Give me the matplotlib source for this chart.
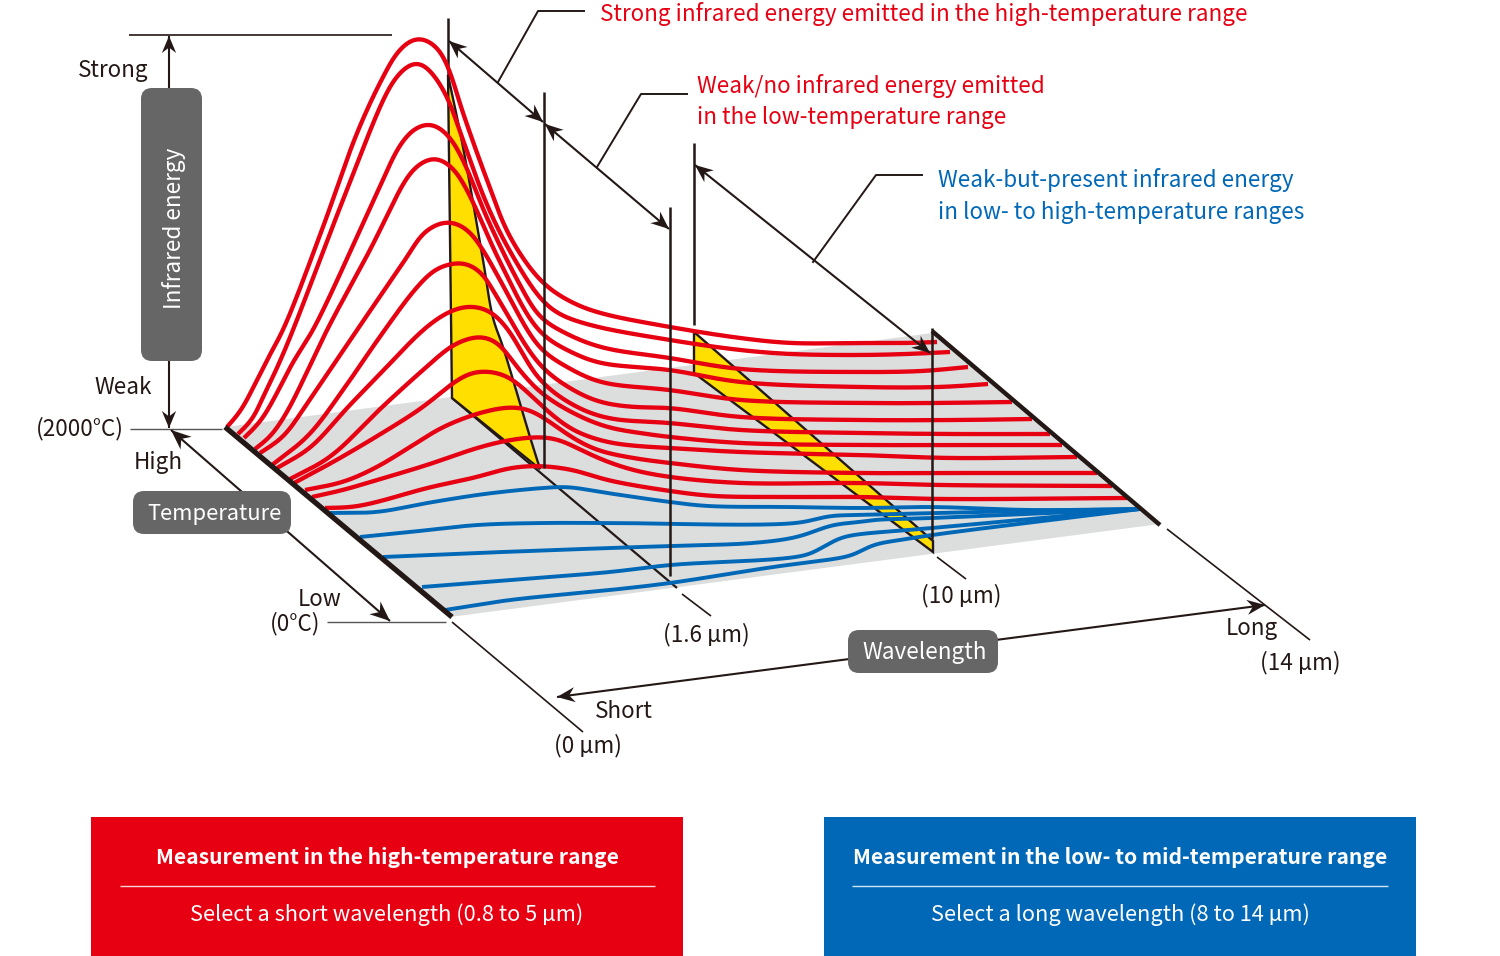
import numpy as np
import matplotlib
matplotlib.use("Agg")
import matplotlib.pyplot as plt
from matplotlib.patches import FancyBboxPatch, Polygon, Rectangle

plt.rcParams["font.family"] = ["Noto Sans CJK JP", "DejaVu Sans"]

INK = "#231815"
RED = "#e60012"
BLUE = "#0068b7"
YELLOW = "#ffdf00"
FLOOR = "#dcdddd"
PILL = "#666666"

# Emission curves in diagram units, one x and one y list per temperature
red01_x = [227, 240, 253, 267, 283, 323, 357, 383, 400, 418, 437, 448, 463, 487, 510, 543, 573, 600, 670, 740, 790, 860, 907, 937]
red01_y = [427, 412, 388, 360, 330, 227, 133, 77, 49, 37, 47, 67, 113, 180, 237, 283, 303, 313, 327, 338, 343, 343, 343, 342]
red02_x = [238, 252, 263, 277, 293, 343, 392, 407, 418, 433, 447, 463, 485, 507, 540, 557, 590, 670, 740, 790, 860, 907, 950]
red02_y = [434, 420, 397, 368, 330, 200, 83, 66, 61, 74, 97, 140, 200, 246, 298, 313, 325, 340, 350, 354, 355, 354, 352]
red03_x = [244, 260, 277, 293, 313, 377, 400, 415, 431, 448, 463, 487, 520, 540, 563, 600, 670, 740, 860, 923, 968]
red03_y = [438, 422, 393, 362, 330, 193, 145, 128, 123, 135, 160, 218, 285, 317, 332, 347, 358, 369, 372, 371, 367]
red04_x = [255, 270, 287, 307, 327, 370, 410, 422, 435, 452, 467, 500, 540, 573, 600, 670, 740, 860, 940, 988]
red04_y = [449, 437, 412, 372, 330, 250, 173, 162, 157, 167, 190, 262, 332, 353, 363, 370, 382, 387, 387, 384]
red05_x = [260, 283, 308, 357, 407, 423, 437, 449, 467, 483, 500, 540, 567, 600, 670, 740, 860, 933, 1012]
red05_y = [453, 437, 402, 330, 257, 233, 224, 221, 229, 250, 280, 348, 367, 382, 390, 400, 403, 403, 402]
red06_x = [272, 308, 343, 379, 417, 437, 450, 462, 480, 497, 540, 573, 600, 633, 670, 740, 860, 957, 1032]
red06_y = [465, 436, 390, 338, 287, 268, 264, 262, 271, 297, 365, 390, 402, 407, 408, 417, 420, 420, 419]
red07_x = [277, 310, 347, 379, 423, 443, 458, 473, 490, 507, 540, 573, 607, 670, 740, 860, 950, 1050]
red07_y = [468, 448, 408, 375, 330, 315, 308, 306, 311, 328, 380, 405, 418, 423, 430, 433, 434, 434]
red08_x = [290, 330, 379, 423, 453, 470, 481, 497, 517, 540, 573, 607, 640, 670, 740, 860, 940, 1062]
red08_y = [479, 457, 410, 370, 345, 338, 336, 342, 367, 392, 413, 427, 433, 437, 443, 445, 445, 445]
red09_x = [294, 333, 379, 423, 453, 470, 483, 505, 523, 543, 573, 607, 637, 670, 740, 860, 950, 1077]
red09_y = [483, 462, 435, 407, 383, 373, 371, 375, 388, 407, 430, 442, 446, 448, 452, 455, 458, 457]
red10_x = [305, 343, 377, 410, 443, 483, 513, 530, 547, 573, 597, 633, 670, 740, 860, 950, 1097]
red10_y = [490, 482, 467, 447, 427, 412, 407, 410, 420, 438, 450, 458, 463, 470, 473, 473, 473]
red11_x = [312, 343, 377, 427, 477, 510, 543, 560, 577, 603, 633, 670, 740, 860, 940, 1112]
red11_y = [497, 490, 480, 465, 448, 440, 437, 440, 448, 460, 470, 477, 483, 483, 485, 486]
red12_x = [325, 353, 377, 427, 477, 510, 540, 573, 607, 670, 713, 773, 860, 940, 1127]
red12_y = [508, 507, 502, 488, 477, 468, 466, 470, 480, 491, 496, 497, 497, 499, 498]

blue1_x = [330, 377, 427, 477, 510, 543, 567, 607, 670, 707, 790, 860, 932, 1030, 1140]
blue1_y = [513, 512, 503, 495, 491, 488, 487, 493, 502, 506, 507, 508, 507, 510, 509]
blue2_x = [360, 410, 477, 543, 610, 797, 830, 860, 932, 1140]
blue2_y = [537, 532, 525, 523, 523, 523, 516, 515, 513, 509]
blue3_x = [383, 477, 610, 670, 753, 797, 833, 860, 873, 932, 1140]
blue3_y = [557, 553, 548, 546, 543, 537, 525, 522, 520, 518, 509]
blue4_x = [422, 510, 610, 670, 807, 823, 840, 853, 932, 1140]
blue4_y = [587, 580, 572, 565, 555, 547, 538, 535, 528, 509]
blue5_x = [445, 510, 610, 670, 773, 840, 853, 873, 900, 932, 1140]
blue5_y = [610, 600, 590, 583, 567, 558, 555, 545, 540, 535, 509]

red_curves = [(red01_x, red01_y), (red02_x, red02_y), (red03_x, red03_y), (red04_x, red04_y),
              (red05_x, red05_y), (red06_x, red06_y), (red07_x, red07_y), (red08_x, red08_y),
              (red09_x, red09_y), (red10_x, red10_y), (red11_x, red11_y), (red12_x, red12_y)]
blue_curves = [(blue1_x, blue1_y), (blue2_x, blue2_y), (blue3_x, blue3_y), (blue4_x, blue4_y), (blue5_x, blue5_y)]

# Measurement bands on the floor
floor_x = [226, 932, 1160, 450]
floor_y = [427, 333, 524, 617]
short_band_x = [448, 463, 483, 493, 503, 530, 540, 473, 452]
short_band_y = [75, 147, 260, 318, 347, 437, 469, 415, 398]
long_band_x = [694, 933, 933, 694]
long_band_y = [332, 541, 552, 373]


def spline(xs, ys, n=16):
    """Centripetal Catmull-Rom through the given points."""
    p = np.column_stack([xs, ys]).astype(float)
    p = np.vstack([2 * p[0] - p[1], p, 2 * p[-1] - p[-2]])
    out = []
    for i in range(len(p) - 3):
        p0, p1, p2, p3 = p[i:i + 4]
        t0 = 0.0
        t1 = t0 + np.linalg.norm(p1 - p0) ** 0.5
        t2 = t1 + np.linalg.norm(p2 - p1) ** 0.5
        t3 = t2 + np.linalg.norm(p3 - p2) ** 0.5
        t = np.linspace(t1, t2, n)[:, None]
        a1 = (t1 - t) / (t1 - t0) * p0 + (t - t0) / (t1 - t0) * p1
        a2 = (t2 - t) / (t2 - t1) * p1 + (t - t1) / (t2 - t1) * p2
        a3 = (t3 - t) / (t3 - t2) * p2 + (t - t2) / (t3 - t2) * p3
        b1 = (t2 - t) / (t2 - t0) * a1 + (t - t0) / (t2 - t0) * a2
        b2 = (t3 - t) / (t3 - t1) * a2 + (t - t1) / (t3 - t1) * a3
        out.append((t2 - t) / (t2 - t1) * b1 + (t - t1) / (t2 - t1) * b2)
    return np.vstack(out)


def smooth(xs, ys, sigma=9.0):
    """Spline the polyline, resample it by arc length, then even it out with pinned ends."""
    p = spline(xs, ys)
    s = np.r_[0, np.cumsum(np.hypot(*np.diff(p, axis=0).T))]
    t = np.r_[np.arange(0, s[-1], 1.0), s[-1]]
    q = np.column_stack([np.interp(t, s, p[:, 0]), np.interp(t, s, p[:, 1])])
    r = int(4 * sigma)
    k = np.exp(-0.5 * (np.arange(-r, r + 1) / sigma) ** 2)
    k /= k.sum()
    head_pad = 2 * q[0] - q[r:0:-1]
    tail_pad = 2 * q[-1] - q[-2:-r - 2:-1]
    full = np.vstack([head_pad, q, tail_pad])
    return np.convolve(full[:, 0], k, "valid"), np.convolve(full[:, 1], k, "valid")


fig = plt.figure(figsize=(15, 9.56), dpi=100)
ax = fig.add_axes([0, 0, 1, 1])
ax.set_xlim(0, 1500)
ax.set_ylim(956, 0)
ax.axis("off")


def seg(x0, y0, x1, y1, lw=1.5, color=INK, z=5):
    ax.plot([x0, x1], [y0, y1], color=color, lw=lw, solid_capstyle="butt", zorder=z)


def head(tx, ty, fx, fy, size=18, z=8):
    """Swept arrow head with its tip at (tx, ty), pointing away from (fx, fy)."""
    d = np.array([tx - fx, ty - fy], float)
    d /= np.linalg.norm(d)
    n = np.array([-d[1], d[0]])
    tip = np.array([tx, ty])
    pts = [tip, tip - d * size + n * size * 0.42, tip - d * size * 0.68, tip - d * size - n * size * 0.42]
    ax.add_patch(Polygon(pts, closed=True, fc=INK, ec="none", zorder=z))


def arrow(x0, y0, x1, y1, both=True, size=18, lw=1.5):
    seg(x0, y0, x1, y1, lw=lw, z=7)
    head(x1, y1, x0, y0, size)
    if both:
        head(x0, y0, x1, y1, size)


def label(x, y, s, color=INK, size=16.2, ha="center", **kw):
    ax.text(x, y, s, color=color, fontsize=size, ha=ha, va="center", zorder=12, **kw)


def pill(x0, y0, x1, y1):
    ax.add_patch(FancyBboxPatch((x0, y0), x1 - x0, y1 - y0,
                                boxstyle="round,pad=0,rounding_size=11",
                                fc=PILL, ec="none", zorder=10))


# Floor of the chart
ax.add_patch(Polygon(np.column_stack([floor_x, floor_y]), closed=True, fc=FLOOR, ec="none", zorder=1))

# Guide lines running along the temperature axis
seg(452, 398, 677, 588, lw=1.6, z=2)
seg(682, 594, 711, 616, lw=1.2, z=2)
seg(937, 557, 966, 579, lw=1.2, z=2)
seg(1167, 529, 1310, 640, lw=1.2, z=2)
seg(452, 622, 583, 732, lw=1.2, z=2)

# Wavelength bands
edge_x, edge_y = smooth(short_band_x[:7], short_band_y[:7], 4.0)
ax.add_patch(Polygon(np.column_stack([edge_x, edge_y]).tolist()
                     + [[short_band_x[7], short_band_y[7]], [short_band_x[8], short_band_y[8]]],
                     closed=True, fc=YELLOW, ec=INK, lw=1.7, joinstyle="miter", zorder=3))
ax.add_patch(Polygon(np.column_stack([long_band_x, long_band_y]), closed=True,
                     fc=YELLOW, ec=INK, lw=1.7, joinstyle="miter", zorder=3))
seg(448, 18, 448, 80, lw=1.8, z=3)

# Spectral curves, coolest underneath
for xs, ys in blue_curves:
    ax.plot(*smooth(xs, ys, 7.0), color=BLUE, lw=2.8, solid_capstyle="butt", zorder=4)
for xs, ys in red_curves:
    ax.plot(*smooth(xs, ys), color=RED, lw=3.1, solid_capstyle="butt", zorder=5)

# Thick floor edges
seg(225, 427, 452, 617, lw=3.8, z=6)
seg(932, 331, 1160, 525, lw=3.2, z=6)

# Wavelength verticals
seg(544, 92, 544, 468, lw=1.8, z=6)
seg(670, 207, 670, 576, lw=1.8, z=6)
seg(694, 143, 694, 325, lw=1.8, z=6)
seg(932, 328, 932, 539, lw=1.8, z=6)

# Range arrows above the curves
arrow(449, 41, 543, 122)
arrow(545, 124, 669, 229)
arrow(695, 165, 930, 353)

# Leader lines to the notes
ax.plot([498, 538, 584], [82, 11, 11], color=INK, lw=1.4, zorder=6)
ax.plot([597, 641, 687], [167, 94, 94], color=INK, lw=1.4, zorder=6)
ax.plot([813, 876, 922], [262, 175, 175], color=INK, lw=1.4, zorder=6)

# Axis furniture
seg(129, 35, 392, 35, lw=1.2)
seg(130, 429, 222, 429, lw=1.0, color="#555555")
seg(327, 622, 446, 622, lw=1.0, color="#555555")
arrow(169, 36, 169, 428, size=17)
arrow(171, 430, 390, 621, size=20)
arrow(557, 697, 1265, 605, size=18)

pill(141, 88, 202, 361)
pill(133, 491, 291, 534)
pill(848, 630, 998, 673)
label(174, 228, "Infrared energy", color="white", rotation=90)
label(215, 514, "Temperature", color="white", size=15.8)
label(925, 653, "Wavelength", color="white")

label(113, 70, "Strong")
label(123, 388, "Weak")
label(80, 429, "(2000°C)")
label(158, 462, "High")
label(320, 599, "Low")
label(295, 624, "(0°C)")
label(706, 635, "(1.6 µm)")
label(961, 596, "(10 µm)")
label(1252, 629, "Long")
label(1300, 663, "(14 µm)")
label(624, 712, "Short")
label(588, 746, "(0 µm)")

label(600, 14, "Strong infrared energy emitted in the high-temperature range", color=RED, ha="left")
label(697, 86, "Weak/no infrared energy emitted", color=RED, ha="left")
label(697, 117, "in the low-temperature range", color=RED, ha="left")
label(938, 180, "Weak-but-present infrared energy", color=BLUE, ha="left")
label(938, 212, "in low- to high-temperature ranges", color=BLUE, ha="left")

# Summary panels
ax.add_patch(Rectangle((91, 817), 592, 139, fc=RED, ec="none", zorder=1))
ax.add_patch(Rectangle((824, 817), 592, 139, fc=BLUE, ec="none", zorder=1))
seg(120, 886, 655, 886, lw=1.0, color="#f9d5d5", z=2)
seg(852, 886, 1388, 886, lw=1.0, color="#d5e5f3", z=2)
label(387, 858, "Measurement in the high-temperature range", color="white", size=15.2, fontweight="bold")
label(387, 915, "Select a short wavelength (0.8 to 5 µm)", color="white", size=15.7)
label(1120, 858, "Measurement in the low- to mid-temperature range", color="white", size=15.2, fontweight="bold")
label(1120, 915, "Select a long wavelength (8 to 14 µm)", color="white", size=15.7)

fig.savefig("out.png", dpi=100)
